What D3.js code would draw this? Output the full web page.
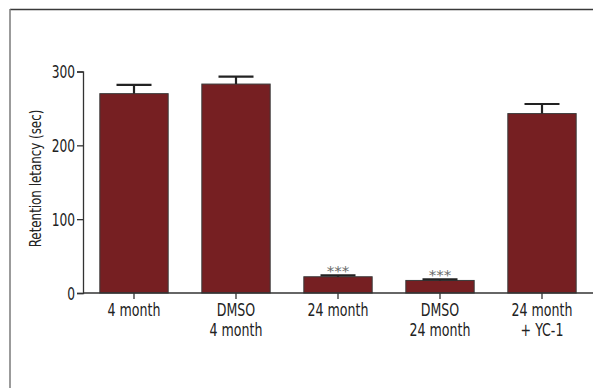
<!DOCTYPE html>
<html>
<head>
<meta charset="utf-8">
<script src="https://cdn.jsdelivr.net/npm/d3@7"></script>
<style>
  html, body { margin: 0; padding: 0; background: #fff; }
  svg { display: block; }
  text { font-family: "DejaVu Sans Condensed", "Liberation Sans Narrow", sans-serif; }
</style>
</head>
<body>
<svg id="chart" width="594" height="388"></svg>
<script>
// Group labels (two lines where the label wraps)
const categories = [
  ["4 month"],
  ["DMSO", "4 month"],
  ["24 month"],
  ["DMSO", "24 month"],
  ["24 month", "+ YC-1"]
];
// Mean retention latency (sec) and upper error (mean + SEM)
const means = [270, 283, 22, 17, 243];
const errUpper = [282, 293, 24, 18.5, 256];
// Significance markers
const marks = ["", "", "***", "***", ""];
const yTicks = [0, 100, 200, 300];

const svg = d3.select("#chart");
const H = 388;
const narrow = 0.8; // horizontal squeeze for a condensed look

// Frame (top and left edges)
svg.append("line").attr("x1", 10).attr("x2", 593).attr("y1", 9.5).attr("y2", 9.5)
  .attr("stroke", "#3a3a3a").attr("stroke-width", 1.5);
svg.append("line").attr("x1", 10).attr("x2", 10).attr("y1", 9).attr("y2", H)
  .attr("stroke", "#7a7a7a").attr("stroke-width", 1.5);

const idx = categories.map((_, i) => i);
const x = d3.scaleBand().domain(idx).range([83, 593]).paddingInner(0.33).paddingOuter(0.165);
const y = d3.scaleLinear().domain([0, 300]).range([293, 71.5]);
const cx = i => x(i) + x.bandwidth() / 2;

// Bars
svg.append("g").selectAll("rect").data(means).join("rect")
  .attr("x", (d, i) => x(i))
  .attr("y", d => y(d))
  .attr("width", x.bandwidth())
  .attr("height", d => y(0) - y(d))
  .attr("fill", "#761f22")
  .attr("stroke", "#3a3a3a")
  .attr("stroke-width", 1);

// Error bars (upper only)
const eb = svg.append("g").attr("stroke", "#222").attr("stroke-width", 2.2);
means.forEach((m, i) => {
  eb.append("line").attr("x1", cx(i)).attr("x2", cx(i)).attr("y1", y(m)).attr("y2", y(errUpper[i]));
  eb.append("line").attr("x1", cx(i) - 17.5).attr("x2", cx(i) + 17.5)
    .attr("y1", y(errUpper[i])).attr("y2", y(errUpper[i]));
});

// Significance asterisks
svg.append("g").selectAll("text").data(marks).join("text")
  .attr("transform", (d, i) => `translate(${cx(i)},${y(errUpper[i]) + 1}) scale(1.05,0.9)`)
  .attr("text-anchor", "middle")
  .attr("font-size", 16)
  .attr("fill", "#6a6a6a")
  .text(d => d);

// Y axis
const yAxis = d3.axisLeft(y).tickValues(yTicks).tickSize(6).tickPadding(2);
const gy = svg.append("g").attr("transform", "translate(83,0)").call(yAxis);
gy.select(".domain").attr("stroke", "#333").attr("stroke-width", 1.3);
gy.selectAll(".tick line").attr("stroke", "#333").attr("stroke-width", 1.3);
gy.selectAll(".tick text")
  .attr("font-size", 17).attr("fill", "#222")
  .attr("x", null).attr("dy", null).attr("y", 6)
  .attr("transform", `translate(-8,0) scale(${narrow},1)`);

// X axis
const xAxis = d3.axisBottom(x).tickSize(6).tickFormat("");
const gx = svg.append("g").attr("transform", "translate(0,293)").call(xAxis);
gx.select(".domain").attr("stroke", "#333").attr("stroke-width", 1.3).attr("d", "M83,0H593");
gx.selectAll(".tick line").attr("stroke", "#333").attr("stroke-width", 1.3);

// X category labels
const lbl = svg.append("g").selectAll("text").data(categories).join("text")
  .attr("text-anchor", "middle")
  .attr("font-size", 17.5)
  .attr("fill", "#222")
  .attr("transform", (d, i) => `translate(${cx(i)},315.5) scale(${narrow},1)`);
lbl.selectAll("tspan").data(d => d).join("tspan")
  .attr("x", 0)
  .attr("y", (d, j) => j * 20.5)
  .text(d => d);

// Y axis title
svg.append("text")
  .attr("transform", `translate(41,178.5) rotate(-90) scale(${narrow},1)`)
  .attr("text-anchor", "middle")
  .attr("font-size", 16.5)
  .attr("fill", "#222")
  .text("Retention letancy (sec)");
</script>
</body>
</html>
